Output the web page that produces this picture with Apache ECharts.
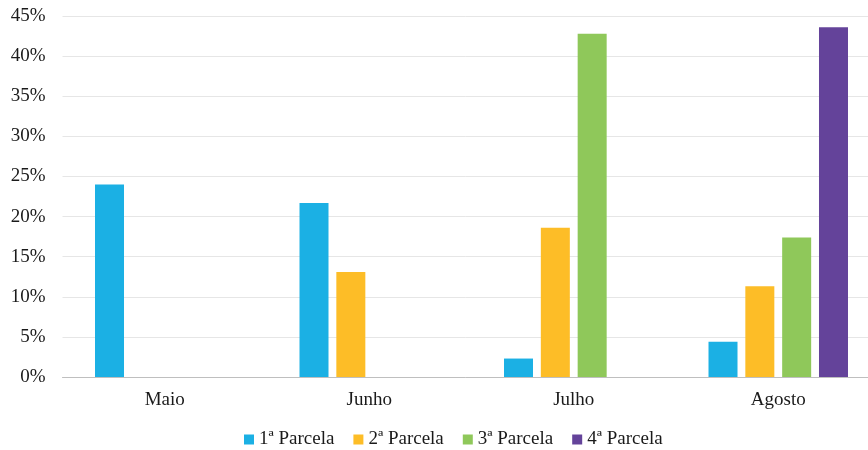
<!DOCTYPE html>
<html>
<head>
<meta charset="utf-8">
<script src="https://cdn.jsdelivr.net/npm/echarts@6/dist/echarts.min.js"></script>
<style>
  html, body { margin: 0; padding: 0; background: #fff; }
  #chart { width: 868px; height: 450px; }
</style>
</head>
<body>
<div id="chart"></div>
<script>
// Months on the category axis
const months = ['Maio', 'Junho', 'Julho', 'Agosto'];

// Share (%) paid in each installment, per month
const parcela1 = [24.0, 21.7, 2.3, 4.4];
const parcela2 = [null, 13.1, 18.6, 11.3];
const parcela3 = [null, null, 42.8, 17.4];
const parcela4 = [null, null, null, 43.6];

const seriesNames = ['1ª Parcela', '2ª Parcela', '3ª Parcela', '4ª Parcela'];
const seriesColors = ['#1BB0E4', '#FDBD27', '#8FC85A', '#64439A'];
const seriesData = [parcela1, parcela2, parcela3, parcela4];

const font = 'Liberation Serif, Times New Roman, serif';
const textColor = '#1a1a1a';

const chart = echarts.init(document.getElementById('chart'), null, { renderer: 'canvas' });

chart.setOption({
  animation: false,
  backgroundColor: '#ffffff',
  textStyle: { fontFamily: font },
  // plot area runs a little past the right edge of the canvas
  grid: {
    left: 62.5, width: 818, top: 16, bottom: 73,
    containLabel: false, outerBoundsMode: 'none'
  },
  legend: {
    left: 244,
    top: 430,
    padding: 0,
    itemWidth: 10,
    itemHeight: 10,
    itemGap: 19,
    icon: 'rect',
    textStyle: { fontFamily: font, fontSize: 19, color: textColor },
    data: seriesNames
  },
  xAxis: {
    type: 'category',
    data: months,
    axisLine: { lineStyle: { color: '#BFBFBF', width: 1 } },
    axisTick: { show: false },
    axisLabel: { fontFamily: font, fontSize: 19, color: textColor, margin: 14 }
  },
  yAxis: {
    type: 'value',
    min: 0,
    max: 45,
    interval: 5,
    axisLine: { show: false },
    axisTick: { show: false },
    splitLine: { lineStyle: { color: '#E6E6E6', width: 1 } },
    axisLabel: {
      fontFamily: font, fontSize: 19, color: textColor, margin: 17,
      formatter: v => v + '%'
    }
  },
  series: seriesData.map((d, i) => ({
    name: seriesNames[i],
    type: 'bar',
    data: d,
    barWidth: 29,
    barGap: '27%',
    itemStyle: { color: seriesColors[i] }
  }))
});
</script>
</body>
</html>
